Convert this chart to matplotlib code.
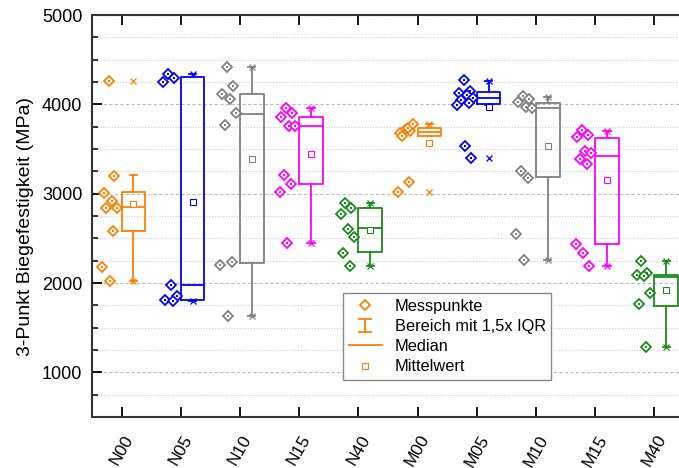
import matplotlib
matplotlib.use("Agg")
import matplotlib.pyplot as plt
from matplotlib.lines import Line2D
from matplotlib.legend_handler import HandlerBase
from matplotlib.ticker import MultipleLocator

plt.rcParams['font.family'] = ['Liberation Sans', 'DejaVu Sans']
plt.rcParams['font.size'] = 12

# sample names
groups = ['N00', 'N05', 'N10', 'N15', 'N40', 'M00', 'M05', 'M10', 'M15', 'M40']
colors = ['#FF8000', '#0000FF', '#808080', '#FF00FF', '#1A8A1A',
          '#FF8000', '#0000FF', '#808080', '#FF00FF', '#1A8A1A']

# single measurements (MPa)
pts_N00 = [4260, 3200, 3010, 2920, 2840, 2840, 2580, 2180, 2020]
pts_N05 = [4340, 4300, 4255, 1975, 1855, 1810, 1800]
pts_N10 = [4420, 4210, 4120, 4060, 3900, 3770, 2230, 2200, 1630]
pts_N15 = [3960, 3900, 3860, 3755, 3755, 3205, 3110, 3015, 2445]
pts_N40 = [2900, 2840, 2770, 2610, 2510, 2340, 2185]
pts_M00 = [3710, 3700, 3675, 3730, 3785, 3645, 3135, 3015]
pts_M05 = [4270, 4150, 4130, 4100, 4070, 4050, 4020, 3990, 3535, 3400]
pts_M10 = [4095, 4060, 4030, 3975, 3955, 3250, 3175, 2545, 2260]
pts_M15 = [3710, 3655, 3635, 3475, 3450, 3390, 3335, 2435, 2335, 2190]
pts_M40 = [2250, 2115, 2085, 2080, 1885, 1760, 1285]
points = [pts_N00, pts_N05, pts_N10, pts_N15, pts_N40,
          pts_M00, pts_M05, pts_M10, pts_M15, pts_M40]

# box statistics
q1      = [2580, 1815, 2220, 3110, 2350, 3646, 3999, 3185, 2435, 1741]
median  = [2850, 1975, 3897, 3755, 2611, 3691, 4066, 3954, 3421, 2071]
q3      = [3015, 4310, 4111, 3860, 2836, 3736, 4134, 4010, 3624, 2086]
whis_lo = [2020, 1800, 1630, 2445, 2185, 3646, 3990, 2260, 2190, 1285]
whis_hi = [3205, 4336, 4420, 3960, 2896, 3780, 4262, 4085, 3700, 2247]
mean    = [2885, 2911, 3391, 3448, 2596, 3571, 3973, 3530, 3155, 1921]
vmin    = [2020, 1800, 1630, 2445, 2185, 3015, 3400, 2260, 2190, 1285]
vmax    = [4260, 4336, 4420, 3960, 2896, 3780, 4262, 4085, 3700, 2247]

jitter = [-0.22, -0.12, -0.30, -0.17, -0.07, -0.26, -0.14, -0.33, -0.20, -0.10]

fig = plt.figure(figsize=(6.79, 4.68), dpi=100)
ax = fig.add_axes([92 / 679, 51 / 468, 592 / 679, 402 / 468])

for i, g in enumerate(groups):
    c = colors[i]
    xs = [i + jitter[k % len(jitter)] for k in range(len(points[i]))]
    ax.plot(xs, points[i], ls='none', marker='D', ms=5.6, mfc='white', mec=c, mew=1.3, zorder=4)
    ax.plot(xs, points[i], ls='none', marker='s', ms=1.8, mfc=c, mec=c, mew=0, zorder=5)
    stats = [dict(med=median[i], q1=q1[i], q3=q3[i], whislo=whis_lo[i], whishi=whis_hi[i],
                  mean=mean[i], fliers=[], label=g)]
    ax.bxp(stats, positions=[i + 0.2], widths=0.4, capwidths=0.12,
           showmeans=True, showfliers=False, patch_artist=False,
           boxprops=dict(color=c, lw=1.3),
           medianprops=dict(color=c, lw=1.3),
           whiskerprops=dict(color=c, lw=1.3),
           capprops=dict(color=c, lw=1.3),
           meanprops=dict(marker='s', ms=4, mfc='white', mec=c, mew=0.8))
    ax.plot([i + 0.2, i + 0.2], [vmin[i], vmax[i]], ls='none', marker='x', ms=4,
            mec=c, mew=0.9, zorder=5)

ax.set_xlim(-0.5, 9.5)
ax.set_ylim(500, 5000)
ax.set_xticks(range(len(groups)))
ax.set_xticklabels(groups, rotation=60, ha='center', va='top', fontsize=12.5)
ax.yaxis.set_major_locator(MultipleLocator(1000))
ax.yaxis.set_minor_locator(MultipleLocator(250))
ax.set_yticks([1000, 2000, 3000, 4000, 5000])
ax.tick_params(axis='both', which='major', direction='in', length=7, width=1.3,
               top=True, right=False)
ax.tick_params(axis='y', which='major', labelsize=13, pad=7)
ax.tick_params(axis='x', which='major', pad=11)
ax.tick_params(axis='y', which='minor', direction='in', length=4, width=1.1, right=False)
ax.tick_params(axis='x', which='minor', bottom=False, top=False)
ax.grid(axis='y', which='major', color='#bbbbbb', ls=(0, (3, 2)), lw=0.8)
ax.grid(axis='y', which='minor', color='#cccccc', ls=(0, (1, 1.5)), lw=0.8)
ax.set_axisbelow(True)
for s in ['left', 'bottom', 'top']:
    ax.spines[s].set_linewidth(1.5)
    ax.spines[s].set_color('#333333')
ax.set_ylabel('3-Punkt Biegefestigkeit (MPa)', fontsize=14)
ax.yaxis.set_label_coords(-0.098, 0.473)


class RangeHandler(HandlerBase):
    def create_artists(self, legend, orig, xd, yd, w, h, fontsize, trans):
        cx = xd + w / 2
        c = orig.get_color()
        cap = w * 0.18
        arts = [Line2D([cx, cx], [yd - 0.1 * h, yd + 1.0 * h], color=c, lw=1.3),
                Line2D([cx - cap, cx + cap], [yd - 0.1 * h, yd - 0.1 * h], color=c, lw=1.3),
                Line2D([cx - cap, cx + cap], [yd + 1.0 * h, yd + 1.0 * h], color=c, lw=1.3)]
        for a in arts:
            a.set_transform(trans)
        return arts


h_pts = Line2D([], [], ls='none', marker='D', ms=5.6, mfc='white', mec='#FF8000', mew=1.3)
h_rng = Line2D([], [], color='#FF8000')
h_med = Line2D([], [], color='#FF8000', lw=1.3)
h_mean = Line2D([], [], ls='none', marker='s', ms=4, mfc='white', mec='#FF8000', mew=0.8)
leg = ax.legend([h_pts, h_rng, h_med, h_mean],
                ['Messpunkte', 'Bereich mit 1,5x IQR', 'Median', 'Mittelwert'],
                handler_map={h_rng: RangeHandler()},
                loc='lower left', bbox_to_anchor=(0.424, 0.092), borderaxespad=0,
                fancybox=False, framealpha=1, edgecolor='#888888', fontsize=11.8,
                handlelength=2.0, labelspacing=0.32, borderpad=0.35, handletextpad=0.8)
leg.get_frame().set_linewidth(1.0)

fig.savefig('out.png', dpi=100)
